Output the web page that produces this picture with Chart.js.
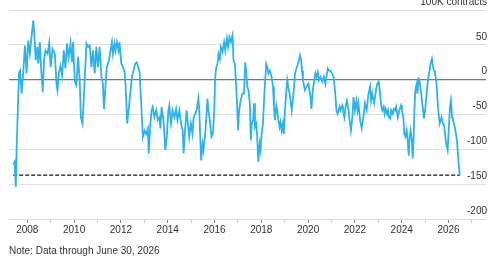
<!DOCTYPE html>
<html>
<head>
<meta charset="utf-8">
<script src="https://cdn.jsdelivr.net/npm/chart.js@4"></script>
<style>
  html, body { margin: 0; padding: 0; background: #fff; }
  #wrap { position: relative; width: 497px; height: 261px; }
  #note { position: absolute; left: 9px; top: 245px; font: 10px "Liberation Sans", Arial, sans-serif; color: #333; }
</style>
</head>
<body>
<div id="wrap">
  <canvas id="positions-chart" width="497" height="261"></canvas>
  <div id="note">Note: Data through June 30, 2026</div>
</div>
<script>
// decimal years (x) and net positions in 100K contracts (y)
const weeks = [
  2007.40, 2007.46, 2007.51, 2007.55, 2007.62, 2007.65, 2007.69, 2007.76, 2007.83, 2007.90, 2007.97,
  2008.04, 2008.11, 2008.19, 2008.26, 2008.30, 2008.36, 2008.43, 2008.47, 2008.54, 2008.58, 2008.66, 2008.72, 2008.78, 2008.87, 2008.94,
  2009.00, 2009.08, 2009.18, 2009.25, 2009.29, 2009.35, 2009.42, 2009.49, 2009.56, 2009.63, 2009.70, 2009.77, 2009.85, 2009.91, 2009.96,
  2010.03, 2010.10, 2010.17, 2010.24, 2010.29, 2010.36, 2010.41, 2010.46, 2010.53, 2010.60, 2010.67, 2010.74, 2010.81, 2010.88, 2010.95,
  2011.02, 2011.09, 2011.17, 2011.23, 2011.28, 2011.34, 2011.40, 2011.49, 2011.56, 2011.62, 2011.66, 2011.73, 2011.77, 2011.83, 2011.90, 2011.94,
  2012.02, 2012.09, 2012.16, 2012.20, 2012.24, 2012.27, 2012.33, 2012.40, 2012.47, 2012.54, 2012.61, 2012.68, 2012.74, 2012.80, 2012.84, 2012.89, 2012.94,
  2013.01, 2013.08, 2013.15, 2013.19, 2013.25, 2013.31, 2013.36, 2013.43, 2013.51, 2013.58, 2013.65, 2013.69, 2013.74, 2013.82, 2013.90, 2013.96,
  2014.03, 2014.07, 2014.14, 2014.21, 2014.29, 2014.36, 2014.42, 2014.50, 2014.57, 2014.64, 2014.68, 2014.74, 2014.81, 2014.85, 2014.92, 2014.99,
  2015.06, 2015.11, 2015.18, 2015.25, 2015.31, 2015.35, 2015.39, 2015.43, 2015.49, 2015.53, 2015.59, 2015.65, 2015.70, 2015.74, 2015.80, 2015.87, 2015.93, 2015.99,
  2016.03, 2016.07, 2016.13, 2016.17, 2016.23, 2016.27, 2016.34, 2016.41, 2016.46, 2016.53, 2016.58, 2016.64, 2016.70, 2016.77, 2016.81, 2016.87, 2016.91, 2016.95,
  2017.01, 2017.05, 2017.12, 2017.19, 2017.26, 2017.31, 2017.36, 2017.40, 2017.45, 2017.51, 2017.55, 2017.59, 2017.65, 2017.69, 2017.73, 2017.79, 2017.83, 2017.87, 2017.93, 2017.97,
  2018.01, 2018.07, 2018.11, 2018.15, 2018.21, 2018.26, 2018.30, 2018.36, 2018.40, 2018.44, 2018.50, 2018.54, 2018.58, 2018.64, 2018.68, 2018.73, 2018.78, 2018.82, 2018.87, 2018.92, 2018.96,
  2019.01, 2019.06, 2019.11, 2019.15, 2019.21, 2019.25, 2019.30, 2019.36, 2019.40, 2019.44, 2019.50, 2019.54, 2019.61, 2019.65, 2019.70, 2019.74, 2019.78, 2019.86, 2019.93,
  2020.00, 2020.03, 2020.10, 2020.14, 2020.20, 2020.24, 2020.31, 2020.35, 2020.41, 2020.46, 2020.53, 2020.60, 2020.67, 2020.74, 2020.78, 2020.84, 2020.89, 2020.95,
  2021.02, 2021.09, 2021.16, 2021.21, 2021.26, 2021.34, 2021.38, 2021.45, 2021.49, 2021.55, 2021.60, 2021.66, 2021.73, 2021.77, 2021.83, 2021.89, 2021.94,
  2022.00, 2022.06, 2022.11, 2022.15, 2022.22, 2022.29, 2022.36, 2022.43, 2022.50, 2022.58, 2022.65, 2022.69, 2022.74, 2022.82, 2022.90, 2022.95,
  2023.01, 2023.06, 2023.13, 2023.17, 2023.23, 2023.27, 2023.31, 2023.37, 2023.41, 2023.45, 2023.51, 2023.55, 2023.62, 2023.66, 2023.72, 2023.76, 2023.83, 2023.90, 2023.97,
  2024.01, 2024.07, 2024.11, 2024.16, 2024.21, 2024.26, 2024.30, 2024.34, 2024.38, 2024.43, 2024.47, 2024.50, 2024.54, 2024.58, 2024.64, 2024.67, 2024.72, 2024.76, 2024.81, 2024.85, 2024.91, 2024.95,
  2025.00, 2025.05, 2025.09, 2025.14, 2025.19, 2025.23, 2025.29, 2025.34, 2025.38, 2025.42, 2025.48, 2025.52, 2025.56, 2025.62, 2025.66, 2025.70, 2025.76, 2025.81, 2025.85, 2025.90, 2025.96,
  2026.00, 2026.06, 2026.10, 2026.15, 2026.19, 2026.25, 2026.29, 2026.34, 2026.39, 2026.43, 2026.48
];
const netPositions = [
  -122, -118, -154, -95, -20, 10, 13, -20, 11, 49, 9,
  56, 37, 64, 85, 66, 28, 47, 23, 54, 23, -18, 28, 42, 37, 53,
  18, 44, 37, -6, -15, 9, 20, 6, 42, 16, 52, 32, 52, 25, 54,
  -3, -8, 33, 0, -54, -63, -30, 4, 52, 47, 49, 18, 42, 9, 47,
  18, 47, 4, -6, -42, -10, 18, 28, 42, 54, 37, 52, 42, 54, 42, 54,
  23, 18, 11, -8, -39, -63, -44, -20, 4, 13, 23, 25, 18, 11, -15, -49, -82,
  -73, -78, -70, -106, -68, -44, -39, -54, -44, -58, -54, -70, -39, -58, -101, -82,
  -44, -37, -63, -44, -54, -42, -58, -44, -63, -73, -106, -73, -44, -58, -82, -63,
  -78, -54, -49, -42, -27, -44, -82, -116, -92, -101, -82, -54, -27, -44, -58, -82, -78, -44,
  4, 16, 23, 37, 30, 47, 40, 54, 42, 59, 47, 61, 54, 64, 28, 23, -1, -25,
  -73, -44, -30, -20, -20, 25, 9, -10, -15, -34, -87, -63, -58, -34, -68, -63, -87, -118, -92, -101,
  -78, -63, -34, -10, 23, 18, 9, 13, 9, 4, -10, -39, -58, -37, -44, -58, -68, -61, -73, -63, -78,
  -44, -20, -1, -10, -20, -30, -44, -25, -10, 9, 16, 20, 28, 35, 28, 13, -1, -15, -10,
  -6, -10, -25, -42, -15, -6, 9, 4, 11, -1, 4, -3, 4, -6, 4, 16, 13, 13,
  9, 4, -20, -44, -49, -39, -44, -37, -44, -54, -39, -30, -44, -58, -73, -54, -25,
  -44, -30, -44, -34, -58, -70, -54, -34, -44, -20, -10, -30, -20, -34, -15, -6,
  -3, -15, -39, -44, -39, -49, -42, -49, -44, -54, -56, -44, -49, -42, -44, -39, -54, -44, -37,
  -44, -54, -78, -82, -73, -89, -109, -82, -73, -87, -113, -92, -44, -15, -6, -20, 1, -1, -15, -25, -44, -56,
  -44, -25, -10, 4, 13, 23, 30, 18, 13, 9, -3, -25, -44, -63, -58, -54, -63, -66, -78, -92, -101,
  -78, -39, -30, -54, -58, -66, -73, -82, -101, -121, -137
];
const latestLevel = -137;
const yTicks = [-200, -150, -100, -50, 0, 50, 100];
const yearRange = [2007.22, 2027.6];

const linePoints = weeks.map((w, i) => ({ x: w, y: netPositions[i] }));
const levelPoints = [
  { x: weeks[0], y: latestLevel },
  { x: weeks[weeks.length - 1], y: latestLevel }
];

const fontFamily = '"Liberation Sans", Arial, sans-serif';
const ctx = document.getElementById('positions-chart').getContext('2d');

const chart = new Chart(ctx, {
  type: 'line',
  data: {
    datasets: [
      {
        data: linePoints,
        borderColor: '#2cb3ef',
        borderWidth: 1.8,
        pointRadius: 0,
        tension: 0,
        fill: false
      },
      {
        data: levelPoints,
        borderColor: '#111',
        borderWidth: 1.3,
        borderDash: [4, 2],
        pointRadius: 0,
        fill: false
      }
    ]
  },
  options: {
    responsive: false,
    animation: false,
    events: [],
    layout: { padding: { top: 10, left: 9, right: 9, bottom: 24 } },
    plugins: {
      legend: { display: false },
      tooltip: { enabled: false },
      title: { display: false }
    },
    scales: {
      x: {
        type: 'linear',
        min: yearRange[0],
        max: yearRange[1],
        border: { display: false },
        grid: {
          drawOnChartArea: false,
          drawTicks: true,
          tickLength: 4,
          tickColor: (c) => (c.tick && c.tick.value % 2 === 0 ? '#8a8a8a' : '#cfcfcf')
        },
        ticks: {
          stepSize: 1,
          includeBounds: false,
          autoSkip: false,
          maxRotation: 0,
          padding: 1,
          color: '#333',
          font: { family: fontFamily, size: 10 },
          callback: (v) => (v % 2 === 0 ? String(v) : '')
        }
      },
      y: {
        position: 'right',
        min: yTicks[0],
        max: yTicks[yTicks.length - 1],
        border: { display: false },
        afterBuildTicks: (scale) => { scale.ticks = yTicks.map((v) => ({ value: v })); },
        grid: {
          drawTicks: false,
          color: (c) => (c.tick && c.tick.value === 0 ? '#777' : '#e0e0e0'),
          lineWidth: (c) => (c.tick && c.tick.value === 0 ? 1.2 : 1)
        },
        ticks: {
          mirror: true,
          padding: 1,
          labelOffset: -8,
          color: '#333',
          font: { family: fontFamily, size: 10 },
          callback: (v) => (v === 100 ? '100K contracts' : String(v))
        }
      }
    }
  }
});
</script>
</body>
</html>
